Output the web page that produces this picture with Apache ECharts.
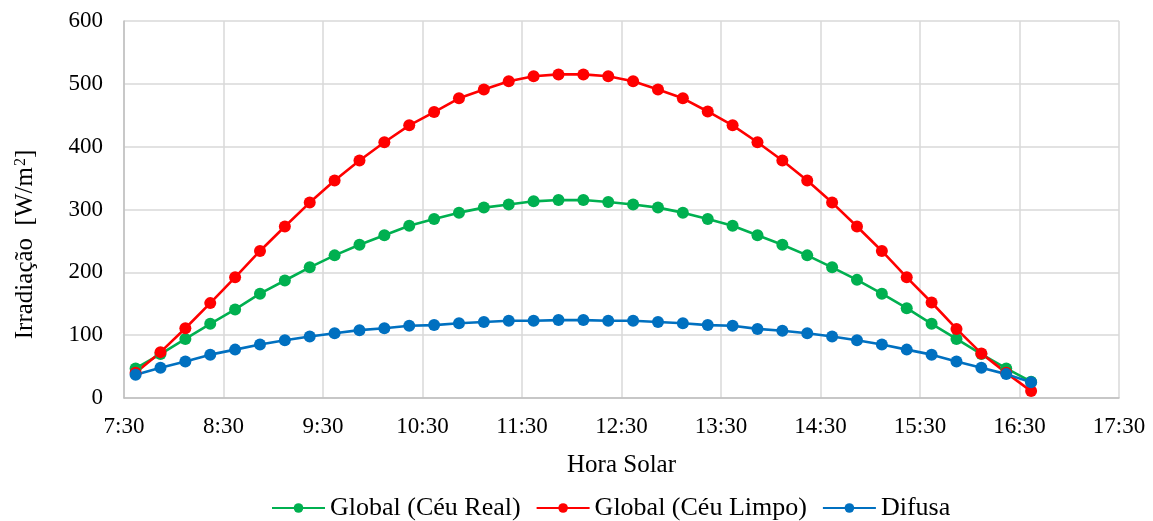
<!DOCTYPE html>
<html>
<head>
<meta charset="utf-8">
<script src="https://cdn.jsdelivr.net/npm/echarts@6/dist/echarts.min.js"></script>
<style>html,body{margin:0;padding:0;background:#fff}#c{width:1153px;height:521px}</style>
</head>
<body>
<div id="c"></div>
<script>
const times = ["7:37","7:52","8:07","8:22","8:37","8:52","9:07","9:22","9:37","9:52","10:07","10:22","10:37","10:52","11:07","11:22","11:37","11:52","12:07","12:22","12:37","12:52","13:07","13:22","13:37","13:52","14:07","14:22","14:37","14:52","15:07","15:22","15:37","15:52","16:07","16:22","16:37"];
const globalReal = [47,70,94,118,141,166,187,208,227,244,259,274,285,295,303,308,313,315,315,312,308,303,295,285,274,259,244,227,208,188,166,143,118,94,70,47,26];
const globalLimpo = [40,73,111,151,192,234,273,311,346,378,407,434,455,477,491,504,512,515,515,512,504,491,477,456,434,407,378,346,311,273,234,192,152,110,71,40,11];
const difusa = [37,48,58,69,77,85,92,98,103,108,111,115,116,119,121,123,123,124,124,123,123,121,119,116,115,110,107,103,98,92,85,77,69,58,48,38,25];
const yTicks = [0,100,200,300,400,500,600];
const seriesNames = ["Global (Céu Real)","Global (Céu Limpo)","Difusa"];
const colors = ["#00b050","#ff0000","#0070c0"];

function toMin(t){const p=t.split(":");return (+p[0])*60+(+p[1]);}
function fmt(v){const h=Math.floor(v/60),m=v%60;return h+":"+(m<10?"0":"")+m;}
const xs = times.map(toMin);
const pair = arr => arr.map((v,i)=>[xs[i],v]);

const font = "'Liberation Serif','Times New Roman',serif";
const chart = echarts.init(document.getElementById('c'));
const mk = (name,data,color)=>({
  name, type:'line', data:pair(data), symbol:'circle', symbolSize:12,
  lineStyle:{width:2.6,color}, itemStyle:{color}, emphasis:{disabled:true}
});
chart.setOption({
  animation:false,
  textStyle:{fontFamily:font},
  grid:{left:124,right:34,top:21,bottom:123},
  xAxis:{type:'value',min:450,max:1050,interval:60,
    name:'Hora Solar',nameLocation:'middle',nameGap:55,
    nameTextStyle:{fontFamily:font,fontSize:25,color:'#000'},
    axisLine:{lineStyle:{color:'#bfbfbf',width:1.5}},axisTick:{show:false},
    axisLabel:{formatter:fmt,fontFamily:font,fontSize:23,color:'#000',margin:17},
    splitLine:{show:true,lineStyle:{color:'#d9d9d9',width:1.5}}},
  yAxis:{type:'value',min:yTicks[0],max:yTicks[yTicks.length-1],interval:100,
    name:'{n|Irradiação  [W/m}{s|2}{n|]}',nameLocation:'middle',nameGap:86,
    nameTextStyle:{fontFamily:font,fontSize:25,color:'#000',padding:[0,70,0,0],
      rich:{n:{fontFamily:font,fontSize:25,color:'#000'},
            s:{fontFamily:font,fontSize:16,color:'#000',verticalAlign:'top',lineHeight:16,padding:[0,0,0,1]}}},
    axisLine:{show:true,lineStyle:{color:'#bfbfbf',width:1.5}},axisTick:{show:false},
    axisLabel:{fontFamily:font,fontSize:23,color:'#000',margin:21},
    splitLine:{lineStyle:{color:'#d9d9d9',width:1.5}}},
  legend:{top:490,left:266,itemWidth:53,itemHeight:12,itemGap:15,
    textStyle:{fontFamily:font,fontSize:26,color:'#000'},
    data:seriesNames},
  series:[mk(seriesNames[0],globalReal,colors[0]),mk(seriesNames[1],globalLimpo,colors[1]),mk(seriesNames[2],difusa,colors[2])]
});
</script>
</body>
</html>
